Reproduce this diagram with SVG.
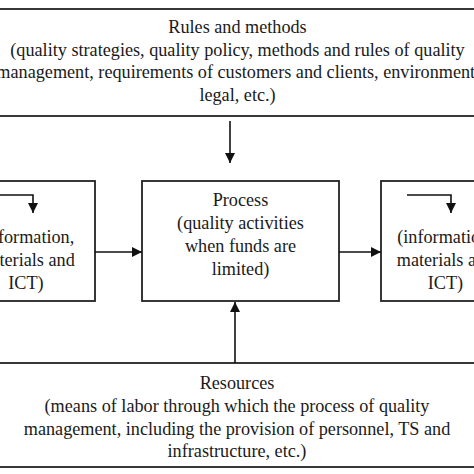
<svg xmlns="http://www.w3.org/2000/svg" width="474" height="474" viewBox="0 0 474 474">
  <defs>
    <style>
      .box { fill: #ffffff; stroke: #222222; stroke-width: 1.8; }
      .t { font-family: "Liberation Serif", "Times New Roman", serif; font-size: 18.2px; fill: #1a1a1a; text-anchor: middle; }
      .ln { fill: none; stroke: #111111; stroke-width: 1.6; }
    </style>
    <marker id="ah" viewBox="0 0 10 10" refX="10" refY="5" markerWidth="11" markerHeight="10" markerUnits="userSpaceOnUse" orient="auto">
      <path d="M0,0 L10,5 L0,10 Z" fill="#111111"/>
    </marker>
  </defs>
  <rect width="474" height="474" fill="#ffffff"/>

  <g id="rules">
    <rect class="box" x="-10" y="9" width="494" height="107"/>
    <text class="t" x="237.5" y="33">Rules and methods</text>
    <text class="t" x="237.5" y="55.5">(quality strategies, quality policy, methods and rules of quality</text>
    <text class="t" x="238" y="78">management, requirements of customers and clients, environment,</text>
    <text class="t" x="237.5" y="100.5">legal, etc.)</text>
  </g>

  <g id="input">
    <rect class="box" x="-43" y="181" width="138" height="120"/>
    <text class="t" x="26" y="243">(information,</text>
    <text class="t" x="26" y="266">materials and</text>
    <text class="t" x="26" y="289">ICT)</text>
    <path class="ln" d="M-12,195 H33 V213" marker-end="url(#ah)"/>
  </g>

  <g id="process">
    <rect class="box" x="142" y="181" width="197" height="120"/>
    <text class="t" x="240.5" y="206">Process</text>
    <text class="t" x="240.5" y="229">(quality activities</text>
    <text class="t" x="240.5" y="252">when funds are</text>
    <text class="t" x="240.5" y="275">limited)</text>
  </g>

  <g id="output">
    <rect class="box" x="381" y="181" width="129" height="120"/>
    <text class="t" x="445.5" y="243">(information,</text>
    <text class="t" x="445.5" y="266">materials and</text>
    <text class="t" x="445.5" y="289">ICT)</text>
    <path class="ln" d="M407,195 H451 V213" marker-end="url(#ah)"/>
  </g>

  <g id="resources">
    <rect class="box" x="-10" y="363" width="494" height="104"/>
    <text class="t" x="237" y="389">Resources</text>
    <text class="t" x="237" y="412">(means of labor through which the process of quality</text>
    <text class="t" x="237" y="434.5">management, including the provision of personnel, TS and</text>
    <text class="t" x="237" y="457">infrastructure, etc.)</text>
  </g>

  <g id="connectors">
    <line class="ln" x1="230" y1="121" x2="230" y2="163" marker-end="url(#ah)"/>
    <line class="ln" x1="95" y1="252" x2="142" y2="252" marker-end="url(#ah)"/>
    <line class="ln" x1="339" y1="252" x2="381" y2="252" marker-end="url(#ah)"/>
    <line class="ln" x1="235" y1="363" x2="235" y2="302" marker-end="url(#ah)"/>
  </g>
</svg>
